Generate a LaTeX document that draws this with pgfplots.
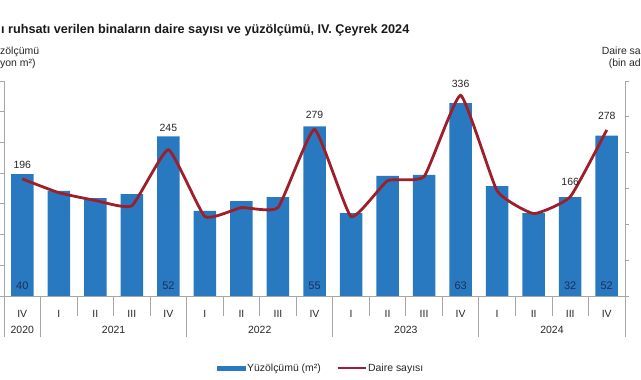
\documentclass[border=0pt]{standalone}
\usepackage{pgfplots}
\pgfplotsset{compat=1.18}
\usepackage{pgfplotstable}
\usepackage{fontspec}
\setmainfont{Liberation Sans}
\definecolor{barblue}{RGB}{41,121,193}
\definecolor{linered}{RGB}{158,30,42}
\definecolor{axgray}{RGB}{166,166,166}
\definecolor{lblnavy}{RGB}{28,48,86}

\pgfplotstableread{
x area blab homes hlab dy
0 39.7 40 196 196 14
1 34.2 {} 173 {} 14
2 31.9 {} 160 {} 14
3 33.2 {} 151 {} 14
4 52.0 52 245 245 22
5 27.7 {} 133 {} 14
6 30.9 {} 148 {} 14
7 32.2 {} 148 {} 14
8 55.2 55 279 279 14
9 27.0 {} 133 {} 14
10 39.1 {} 193 {} 14
11 39.4 {} 200 {} 14
12 62.8 63 336 336 11
13 35.8 {} 176 {} 14
14 27.0 {} 138 {} 14
15 32.2 32 166 166 15
16 52.2 52 278 278 14
}\data

\begin{document}
\begin{tikzpicture}
\useasboundingbox (0bp,0bp) rectangle (641bp,380bp);
\node[anchor=base west, inner sep=0pt, font=\bfseries\fontsize{12.7}{14}\selectfont, text=black!90] at (1bp,346bp) {ı ruhsatı verilen binaların daire sayısı ve yüzölçümü, IV. Çeyrek 2024};

\begin{axis}[
  at={(4bp,84bp)}, anchor=south west, scale only axis,
  width=621bp, height=215bp,
  xmin=-0.5, xmax=16.5, ymin=0, ymax=70,
  clip=false,
  axis x line*=bottom, axis y line*=left,
  axis line style={axgray, line width=0.8bp, -},
  ytick={0,10,...,70}, yticklabels={},
  tick align=outside, major tick length=4bp,
  ytick style={axgray, line width=0.8bp},
  xtick={0,...,16},
  xticklabels={IV,I,II,III,IV,I,II,III,IV,I,II,III,IV,I,II,III,IV},
  xtick style={draw=none},
  xticklabel style={anchor=base, yshift=-18bp, font=\fontsize{10.5}{12}\selectfont, text=black!85},
]
\addplot[ybar, bar width=22.5bp, fill=barblue, draw=none,
  nodes near coords, point meta=explicit symbolic,
  visualization depends on={rawy \as \ry},
  nodes near coords style={anchor=center, yshift={10bp-\ry*3.0714bp}, font=\fontsize{11}{12}\selectfont, text=lblnavy}]
  table[x=x, y=area, meta=blab] {\data};

\pgfplotsinvokeforeach{0.5,1.5,2.5,3.5,5.5,6.5,7.5,9.5,10.5,11.5,13.5,14.5,15.5}{
  \draw[axgray, line width=0.8bp] (axis cs:#1,0) -- ++(0bp,-20bp);
}
\pgfplotsinvokeforeach{-0.5,0.5,4.5,8.5,12.5,16.5}{
  \draw[axgray, line width=0.8bp] (axis cs:#1,0) -- ++(0bp,-41bp);
}
\node[anchor=base, font=\fontsize{10.5}{12}\selectfont, text=black!85] at ([yshift=-38bp]axis cs:0,0) {2020};
\node[anchor=base, font=\fontsize{10.5}{12}\selectfont, text=black!85] at ([yshift=-38bp]axis cs:2.5,0) {2021};
\node[anchor=base, font=\fontsize{10.5}{12}\selectfont, text=black!85] at ([yshift=-38bp]axis cs:6.5,0) {2022};
\node[anchor=base, font=\fontsize{10.5}{12}\selectfont, text=black!85] at ([yshift=-38bp]axis cs:10.5,0) {2023};
\node[anchor=base, font=\fontsize{10.5}{12}\selectfont, text=black!85] at ([yshift=-38bp]axis cs:14.5,0) {2024};
\end{axis}

\begin{axis}[
  at={(4bp,84bp)}, anchor=south west, scale only axis,
  width=621bp, height=215bp,
  xmin=-0.5, xmax=16.5, ymin=0, ymax=360,
  clip=false,
  axis y line*=right, axis x line=none,
  axis line style={axgray, line width=0.8bp, -},
  ytick={0,60,...,360}, yticklabels={},
  tick align=outside, major tick length=4bp,
  ytick style={axgray, line width=0.8bp},
  legend style={at={(0.5105,-0.335)}, anchor=center, draw=none, fill=none,
    legend columns=2, font=\fontsize{10.5}{12}\selectfont, text=black!85,
    /tikz/every even column/.append style={column sep=14bp},
    inner sep=0pt, nodes={inner sep=1.5bp}},
  legend cell align=left,
]
\addlegendimage{legend image code/.code={\fill[barblue] (0bp,-2.2bp) rectangle (28bp,2.2bp);}}
\addlegendentry{Yüzölçümü (m²)}
\addplot[linered, line width=2.8bp, smooth, tension=0.25, mark=none,
  nodes near coords, point meta=explicit symbolic,
  visualization depends on={\thisrow{dy} \as \dy},
  nodes near coords style={anchor=center, yshift=\dy bp, font=\fontsize{10.5}{12}\selectfont, text=black!85},
  legend image code/.code={\draw[linered, line width=2.2bp] (0bp,0bp) -- (28bp,0bp);}]
  table[x=x, y=homes, meta=hlab] {\data};
\addlegendentry{Daire sayısı}
\end{axis}

\node[anchor=west, align=left, inner sep=0pt, font=\fontsize{10.5}{11.5}\selectfont, text=black!85] at (0bp,322bp) {zölçümü\\yon m²)};
\node[anchor=east, align=right, inner sep=0pt, font=\fontsize{10.5}{11.5}\selectfont, text=black!85] at (641bp,322bp) {Daire sa\\(bin ad};
\end{tikzpicture}
\end{document}
